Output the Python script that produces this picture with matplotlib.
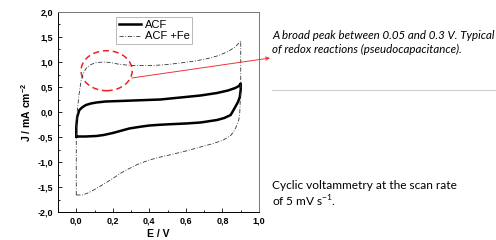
import matplotlib
matplotlib.use('Agg')
import matplotlib.pyplot as plt
from matplotlib.patches import Ellipse
from matplotlib.lines import Line2D
from matplotlib.ticker import MultipleLocator, FuncFormatter

matplotlib.rcParams['mathtext.fontset'] = 'custom'
matplotlib.rcParams['mathtext.rm'] = 'Lato'
matplotlib.rcParams['mathtext.bf'] = 'Liberation Sans:bold'

# cyclic voltammograms (E in V, J in mA cm-2)
acf_E = [0, 0, 0.005, 0.017, 0.035, 0.053, 0.08, 0.11, 0.16, 0.24, 0.35, 0.46, 0.57, 0.68,
         0.77, 0.83, 0.87, 0.89, 0.9, 0.9, 0.895, 0.885, 0.87, 0.845, 0.81, 0.77, 0.68,
         0.6, 0.51, 0.46, 0.40, 0.35, 0.29, 0.24, 0.20, 0.15, 0.11, 0.05, 0]
acf_J = [-0.49, -0.3, -0.1, 0.04, 0.1, 0.14, 0.17, 0.19, 0.21, 0.22, 0.235, 0.25, 0.29, 0.33,
         0.38, 0.43, 0.48, 0.52, 0.57, 0.45, 0.3, 0.2, 0.1, -0.06, -0.12, -0.16, -0.21,
         -0.23, -0.245, -0.255, -0.27, -0.295, -0.33, -0.38, -0.42, -0.46, -0.48, -0.49, -0.49]

fe_E = [0, 0, 0.005, 0.015, 0.026, 0.04, 0.053, 0.08, 0.11, 0.16, 0.2, 0.24, 0.31, 0.42,
        0.5, 0.57, 0.65, 0.72, 0.78, 0.83, 0.87, 0.9, 0.9, 0.895, 0.89, 0.875, 0.86, 0.845,
        0.8, 0.74, 0.68, 0.6, 0.51, 0.46, 0.40, 0.34, 0.29, 0.24, 0.20, 0.16, 0.11, 0.07,
        0.035, 0]
fe_J = [-1.66, -0.5, 0.0, 0.35, 0.62, 0.78, 0.87, 0.95, 0.99, 1.0, 0.98, 0.95, 0.93, 0.93,
        0.95, 0.98, 1.02, 1.07, 1.13, 1.21, 1.3, 1.42, 0.5, 0.0, -0.15, -0.3, -0.4, -0.47,
        -0.57, -0.64, -0.7, -0.78, -0.86, -0.9, -0.96, -1.04, -1.13, -1.23, -1.33, -1.42,
        -1.53, -1.61, -1.66, -1.66]

labels = ['ACF', 'ACF +Fe']
note_top = 'A broad peak between 0.05 and 0.3 V. Typical\nof redox reactions (pseudocapacitance).'
note_bottom = 'Cyclic voltammetry at the scan rate\nof 5 mV s$^{-1}$.'

W, H = 496, 240
fig = plt.figure(figsize=(W / 100, H / 100), dpi=100)
ax = fig.add_axes([58 / W, 28 / H, 201 / W, 200 / H])

ax.plot(acf_E, acf_J, color='black', lw=1.8, label=labels[0])
ax.plot(fe_E, fe_J, color='#333333', lw=0.6, ls=(0, (5, 2, 1, 2)), label=labels[1])

ax.set_xlim(-0.1, 1.0)
ax.set_ylim(-2.0, 2.0)
ax.xaxis.set_major_locator(MultipleLocator(0.2))
ax.xaxis.set_minor_locator(MultipleLocator(0.1))
ax.yaxis.set_major_locator(MultipleLocator(0.5))
ax.yaxis.set_minor_locator(MultipleLocator(0.25))
comma = FuncFormatter(lambda v, p: f'{v:.1f}'.replace('.', ','))
ax.xaxis.set_major_formatter(comma)
ax.yaxis.set_major_formatter(comma)
ax.tick_params(which='both', direction='in', labelsize=6.5, width=0.6)
ax.tick_params(which='major', length=3)
ax.tick_params(which='minor', length=1.6)
for lab in ax.get_xticklabels() + ax.get_yticklabels():
    lab.set_fontweight('bold')
    lab.set_family('Liberation Sans')
for s in ['top', 'right']:
    ax.spines[s].set_color('#777777')
for s in ax.spines.values():
    s.set_linewidth(0.7)

ax.set_xlabel('E / V', fontsize=7.5, fontweight='bold', family='Liberation Sans', labelpad=2)
ax.set_ylabel(r'J / mA cm$\mathbf{^{-2}}$', fontsize=7.5, fontweight='bold',
              family='Liberation Sans', labelpad=3)

leg = ax.legend(loc='upper left', bbox_to_anchor=(0.29, 0.975), fontsize=8, frameon=True,
                fancybox=False, handlelength=2.0, handletextpad=0.3, borderpad=0.25,
                labelspacing=0.15, borderaxespad=0)
leg.get_frame().set_edgecolor('#999999')
leg.get_frame().set_linewidth(0.6)
for t in leg.get_texts():
    t.set_family('Liberation Sans')

ax.add_patch(Ellipse((0.166, 0.826), 0.28, 0.8, fill=False, ec='#ee2222', lw=1.1,
                     ls=(0, (4, 2.5))))
ax.annotate('', xy=(270 / W, 1 - 58 / H), xycoords='figure fraction',
            xytext=(0.304, 0.68), textcoords='data',
            arrowprops=dict(arrowstyle='->', color='#ee3333', lw=0.7, shrinkA=0, shrinkB=0,
                            mutation_scale=6),
            annotation_clip=False)

fig.text(272 / W, 1 - 53 / H, note_top, fontsize=8.3, style='italic', family='Lato',
         va='baseline', linespacing=1.35)
fig.add_artist(Line2D([272 / W, 1.0], [1 - 90 / H, 1 - 90 / H], color='#cccccc', lw=0.8))
fig.text(272 / W, 1 - 207 / H, note_bottom, fontsize=8.6, family='Lato',
         va='baseline', linespacing=1.25)

fig.savefig('out.png', dpi=100)
